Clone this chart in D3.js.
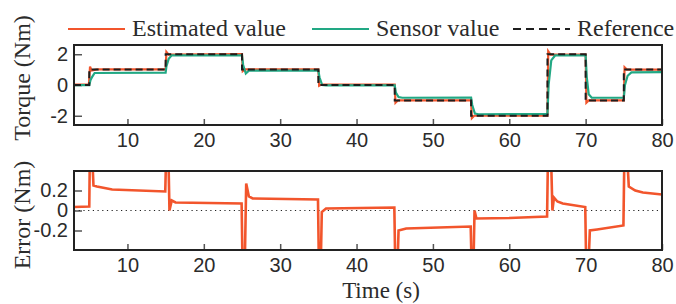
<!DOCTYPE html>
<html>
<head>
<meta charset="utf-8">
<script src="https://cdn.jsdelivr.net/npm/d3@7"></script>
<style>
  body { margin: 0; background: #fff; }
  .serif { font-family: "Liberation Serif", serif; fill: #2b2b2b; }
  .tick text { font-family: "Liberation Sans", sans-serif; fill: #2b2b2b; }
</style>
</head>
<body>
<div class="chart"></div>
<script>
// values, [time (s), value]
var reference = [[3,0],[5,0],[5,1],[15,1],[15,2],[25,2],[25,1],[35,1],[35,0],[45,0],[45,-1],
  [55,-1],[55,-2],[65,-2],[65,2],[70,2],[70,-1],[75,-1],[75,1],[80,1]];

var estimated = [[3,0.02],[4.95,0.02],[5.1,1.2],[5.3,0.95],[6,1.02],[15,1.02],[15.1,2.15],[15.4,1.97],
  [25,2.0],[25.1,0.9],[25.4,1.02],[35,1.02],[35.1,-0.05],[35.4,0.03],[45,0.02],[45.1,-1.15],
  [45.4,-1.0],[55,-1.0],[55.1,-2.15],[55.4,-2.0],[65,-2.0],[65.1,2.2],[65.4,1.98],[70,1.98],
  [70.1,-1.15],[70.4,-1.0],[75,-1.0],[75.1,1.15],[75.4,1.0],[80,1.0]];

var sensor = [[3,-0.01],[5,-0.01],[5.15,0.3],[5.4,0.55],[5.7,0.78],[15,0.8],[15.1,1.2],[15.4,1.7],
  [15.8,1.93],[25,1.93],[25.15,1.3],[25.5,0.75],[25.9,0.93],[35,0.93],[35.15,0.5],[35.5,0.0],
  [36,-0.02],[45,-0.02],[45.15,-0.5],[45.5,-0.78],[46,-0.83],[55,-0.82],[55.15,-1.3],[55.5,-1.85],
  [56,-1.9],[65,-1.88],[65.15,0.0],[65.5,1.6],[66,1.92],[70,1.92],[70.15,0.5],[70.4,-0.6],
  [70.8,-0.83],[75,-0.83],[75.15,0.0],[75.5,0.6],[76,0.82],[80,0.84]];

var error = [[3,0.035],[5,0.04],[5.08,0.6],[5.35,0.6],[5.55,0.25],[6,0.24],[8,0.21],[14.95,0.19],
  [15.08,0.6],[15.35,0.6],[15.5,0.0],[15.8,0.1],[16.3,0.08],[24.95,0.07],[25.08,-0.6],[25.35,-0.6],
  [25.55,0.27],[25.9,0.14],[26.4,0.12],[34.95,0.11],[35.08,-0.6],[35.3,-0.6],[35.45,-0.015],
  [36,0.02],[44.95,0.03],[45.08,-0.6],[45.35,-0.6],[45.5,-0.2],[46.5,-0.18],[54.95,-0.16],
  [55.08,-0.6],[55.3,-0.6],[55.45,0.0],[55.7,-0.08],[60,-0.075],[64.95,-0.06],[65.08,0.6],
  [65.45,0.6],[65.65,0.0],[65.85,0.13],[66.3,0.09],[67,0.07],[69.95,0.035],[70.08,-0.6],
  [70.35,-0.6],[70.55,-0.2],[71.5,-0.19],[74.95,-0.15],[75.08,0.6],[75.4,0.6],[75.65,0.24],
  [76.5,0.2],[77.5,0.18],[80,0.16]];

var xTicks = [10, 20, 30, 40, 50, 60, 70, 80];
var torqueTicks = [-2, 0, 2];
var errorTicks = [-0.2, 0, 0.2];
var legendLabels = ["Estimated value", "Sensor value", "Reference"];

var colors = {est: "#f2552c", sen: "#22a884", ref: "#1e1e1e"};

var width = 676, height = 304;
var left = 74, right = 662;

var svg = d3.select(".chart").append("svg")
    .attr("width", width)
    .attr("height", height);

var x = d3.scaleLinear().domain([3, 80]).range([left, right]);
var yTop = d3.scaleLinear().domain([-2.6, 2.6]).range([125, 45]);
var yBot = d3.scaleLinear().domain([-0.395, 0.395]).range([250, 171]);

function line(y) {
  return d3.line().x(function(d) { return x(d[0]); }).y(function(d) { return y(d[1]); });
}

// plain hyphen for negatives, like the original
function numFmt(d) {
  return String(d).replace("\u2212", "-");
}

function panel(y, id, ticks) {
  var g = svg.append("g");
  g.append("clipPath").attr("id", id)
    .append("rect")
    .attr("x", left).attr("y", y.range()[1])
    .attr("width", right - left).attr("height", y.range()[0] - y.range()[1]);

  // ticks inside the box
  var xa = g.append("g")
    .attr("transform", "translate(0," + y.range()[0] + ")")
    .call(d3.axisBottom(x).tickValues(xTicks).tickSize(-6).tickPadding(8).tickFormat(numFmt));
  var ya = g.append("g")
    .attr("transform", "translate(" + left + ",0)")
    .call(d3.axisLeft(y).tickValues(ticks).tickSize(-8).tickPadding(6).tickFormat(numFmt));
  [xa, ya].forEach(function(a) {
    a.select(".domain").remove();
    a.selectAll(".tick line").attr("stroke", "#555").attr("stroke-width", 1.5);
    a.selectAll(".tick text").style("font-size", "20px");
  });

  var plot = g.append("g").attr("clip-path", "url(#" + id + ")");
  return {g: g, plot: plot};
}

function frame(g, y) {
  g.append("rect")
    .attr("x", left).attr("y", y.range()[1])
    .attr("width", right - left).attr("height", y.range()[0] - y.range()[1])
    .attr("fill", "none").attr("stroke", "#222").attr("stroke-width", 2);
}

// top panel: torque
var torquePanel = panel(yTop, "clipTop", torqueTicks);
torquePanel.plot.append("path").datum(estimated)
  .attr("d", line(yTop)).attr("fill", "none")
  .attr("stroke", colors.est).attr("stroke-width", 2.2);
torquePanel.plot.append("path").datum(sensor)
  .attr("d", line(yTop)).attr("fill", "none")
  .attr("stroke", colors.sen).attr("stroke-width", 2.2);
torquePanel.plot.append("path").datum(reference)
  .attr("d", line(yTop)).attr("fill", "none")
  .attr("stroke", colors.ref).attr("stroke-width", 2).attr("stroke-dasharray", "7,4");
frame(torquePanel.g, yTop);

// bottom panel: error
var errorPanel = panel(yBot, "clipBot", errorTicks);
errorPanel.plot.append("line")
  .attr("x1", left).attr("x2", right)
  .attr("y1", yBot(0)).attr("y2", yBot(0))
  .attr("stroke", "#222").attr("stroke-width", 1.2).attr("stroke-dasharray", "1.2,3.5");
errorPanel.plot.append("path").datum(error)
  .attr("d", line(yBot)).attr("fill", "none")
  .attr("stroke", colors.est).attr("stroke-width", 2.6);
frame(errorPanel.g, yBot);

// axis labels
svg.append("text").attr("class", "serif")
  .attr("transform", "translate(30,78) rotate(-90)")
  .attr("text-anchor", "middle").style("font-size", "24px")
  .text("Torque (Nm)");
svg.append("text").attr("class", "serif")
  .attr("transform", "translate(30,215) rotate(-90)")
  .attr("text-anchor", "middle").style("font-size", "24px")
  .text("Error (Nm)");
svg.append("text").attr("class", "serif")
  .attr("x", 381).attr("y", 298)
  .attr("text-anchor", "middle").style("font-size", "23px")
  .text("Time (s)");

// legend
var legendX = [68, 312, 513];
var legend = svg.append("g").selectAll("g")
  .data(legendLabels).enter().append("g")
  .attr("transform", function(d, i) { return "translate(" + legendX[i] + ",29)"; });
legend.append("line")
  .attr("x1", 0).attr("x2", 57).attr("y1", 0).attr("y2", 0)
  .attr("stroke", function(d, i) { return [colors.est, colors.sen, colors.ref][i]; })
  .attr("stroke-width", 2)
  .attr("stroke-dasharray", function(d, i) { return i === 2 ? "8,5" : null; });
legend.append("text").attr("class", "serif")
  .attr("x", 64).attr("y", 7)
  .style("font-size", "24px")
  .text(function(d) { return d; });
</script>
</body>
</html>
